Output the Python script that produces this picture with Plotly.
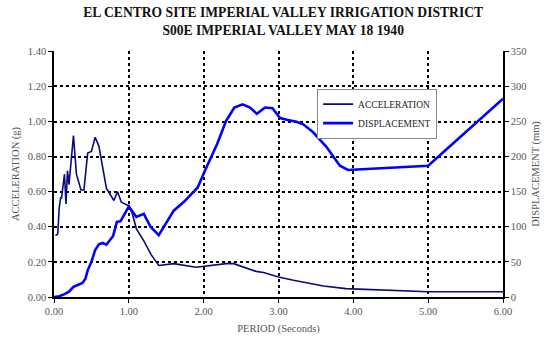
import plotly.graph_objects as go

# Acceleration spectrum (g) vs period (s)
acc_period = [0.02, 0.05, 0.07, 0.09, 0.10, 0.14, 0.16, 0.18, 0.20, 0.26, 0.30, 0.36, 0.40,
              0.45, 0.50, 0.55, 0.60, 0.70, 0.80, 0.85, 0.90, 1.00, 1.05, 1.10, 1.20, 1.30,
              1.40, 1.60, 1.90, 2.30, 2.40, 2.70, 2.80, 3.00, 3.20, 3.60, 3.90, 5.00, 6.00]
acc_values = [0.35, 0.36, 0.51, 0.57, 0.56, 0.70, 0.53, 0.72, 0.64, 0.92, 0.70, 0.61, 0.61,
              0.82, 0.83, 0.91, 0.86, 0.62, 0.55, 0.60, 0.54, 0.52, 0.47, 0.39, 0.32, 0.24,
              0.18, 0.19, 0.17, 0.19, 0.19, 0.146, 0.14, 0.114, 0.095, 0.063, 0.048, 0.030, 0.030]

# Displacement spectrum (mm) vs period (s)
disp_period = [0.00, 0.07, 0.14, 0.20, 0.26, 0.31, 0.38, 0.42, 0.45, 0.50, 0.55, 0.60, 0.65,
               0.70, 0.79, 0.84, 0.89, 1.00, 1.10, 1.20, 1.29, 1.40, 1.60, 1.74, 1.92, 2.03,
               2.18, 2.30, 2.41, 2.52, 2.62, 2.71, 2.82, 2.92, 3.02, 3.11, 3.24, 3.33, 3.46,
               3.64, 3.82, 3.93, 5.00, 6.00]
disp_values = [0, 1, 4, 7.5, 14.5, 17, 20, 26, 38, 50, 67, 75, 77,
               74.5, 87, 107, 108, 129, 114, 118.5, 100, 88, 123, 136, 156, 183,
               218, 251, 270, 274.5, 270, 261, 270, 269, 255, 252.5, 249.6, 246, 235,
               214, 187, 181, 187, 282.5]

x_ticks = [0, 1, 2, 3, 4, 5, 6]
acc_ticks = [0, 0.2, 0.4, 0.6, 0.8, 1.0, 1.2, 1.4]
disp_ticks = [0, 50, 100, 150, 200, 250, 300, 350]

serif = "Liberation Serif"
tick_col = "#555555"
tfont = dict(family=serif, size=10.5, color=tick_col)
afont = dict(family=serif, size=10.5, color=tick_col)

fig = go.Figure()
fig.add_trace(go.Scatter(x=acc_period, y=acc_values, mode="lines", name="ACCELERATION",
                         line=dict(color="#0a0a80", width=1.6)))
fig.add_trace(go.Scatter(x=disp_period, y=disp_values, mode="lines", name="DISPLACEMENT",
                         line=dict(color="#0000ff", width=2.6), yaxis="y2"))

fig.update_layout(
    width=552, height=345,
    margin=dict(l=54, r=43, t=51, b=45),
    paper_bgcolor="white", plot_bgcolor="white",
    font=dict(family=serif, size=10, color=tick_col),
    title=dict(text="<b>EL CENTRO SITE IMPERIAL VALLEY IRRIGATION DISTRICT<br>S00E IMPERIAL VALLEY MAY 18 1940</b>",
               x=0.513, xanchor="center", y=0.95, yanchor="top",
               font=dict(family=serif, size=13.6, color="#111111")),
    xaxis=dict(range=[0, 6], tickvals=x_ticks, tickformat=".2f", tickfont=tfont,
               showgrid=True, gridcolor="black", griddash="dot", gridwidth=1.5,
               showline=True, linecolor="black", linewidth=1.5,
               ticks="outside", ticklen=4, tickcolor="black",
               zeroline=False,
               title=dict(text="PERIOD (Seconds)", font=afont, standoff=8)),
    yaxis=dict(range=[0, 1.402], tickvals=acc_ticks, tickformat=".2f", tickfont=tfont,
               showgrid=True, gridcolor="black", griddash="dot", gridwidth=1.5,
               showline=True, linecolor="black", linewidth=1.5,
               ticks="outside", ticklen=4, tickcolor="black",
               zeroline=False,
               title=dict(text="ACCELERATION (g)", font=afont, standoff=6)),
    yaxis2=dict(range=[0, 350.5], tickvals=disp_ticks, overlaying="y", side="right", tickfont=tfont,
                showgrid=False, showline=True, linecolor="black", linewidth=1.5,
                ticks="outside", ticklen=4, tickcolor="black", zeroline=False,
                title=dict(text="DISPLACEMENT (mm)", font=afont, standoff=6)),
    legend=dict(x=0.586, y=0.847, xanchor="left", yanchor="top",
                bgcolor="white", bordercolor="#888888", borderwidth=1,
                font=dict(family=serif, size=9.5, color="#222222"),
                tracegroupgap=0, itemwidth=30),
    showlegend=True,
)

fig.write_html("out.html")
